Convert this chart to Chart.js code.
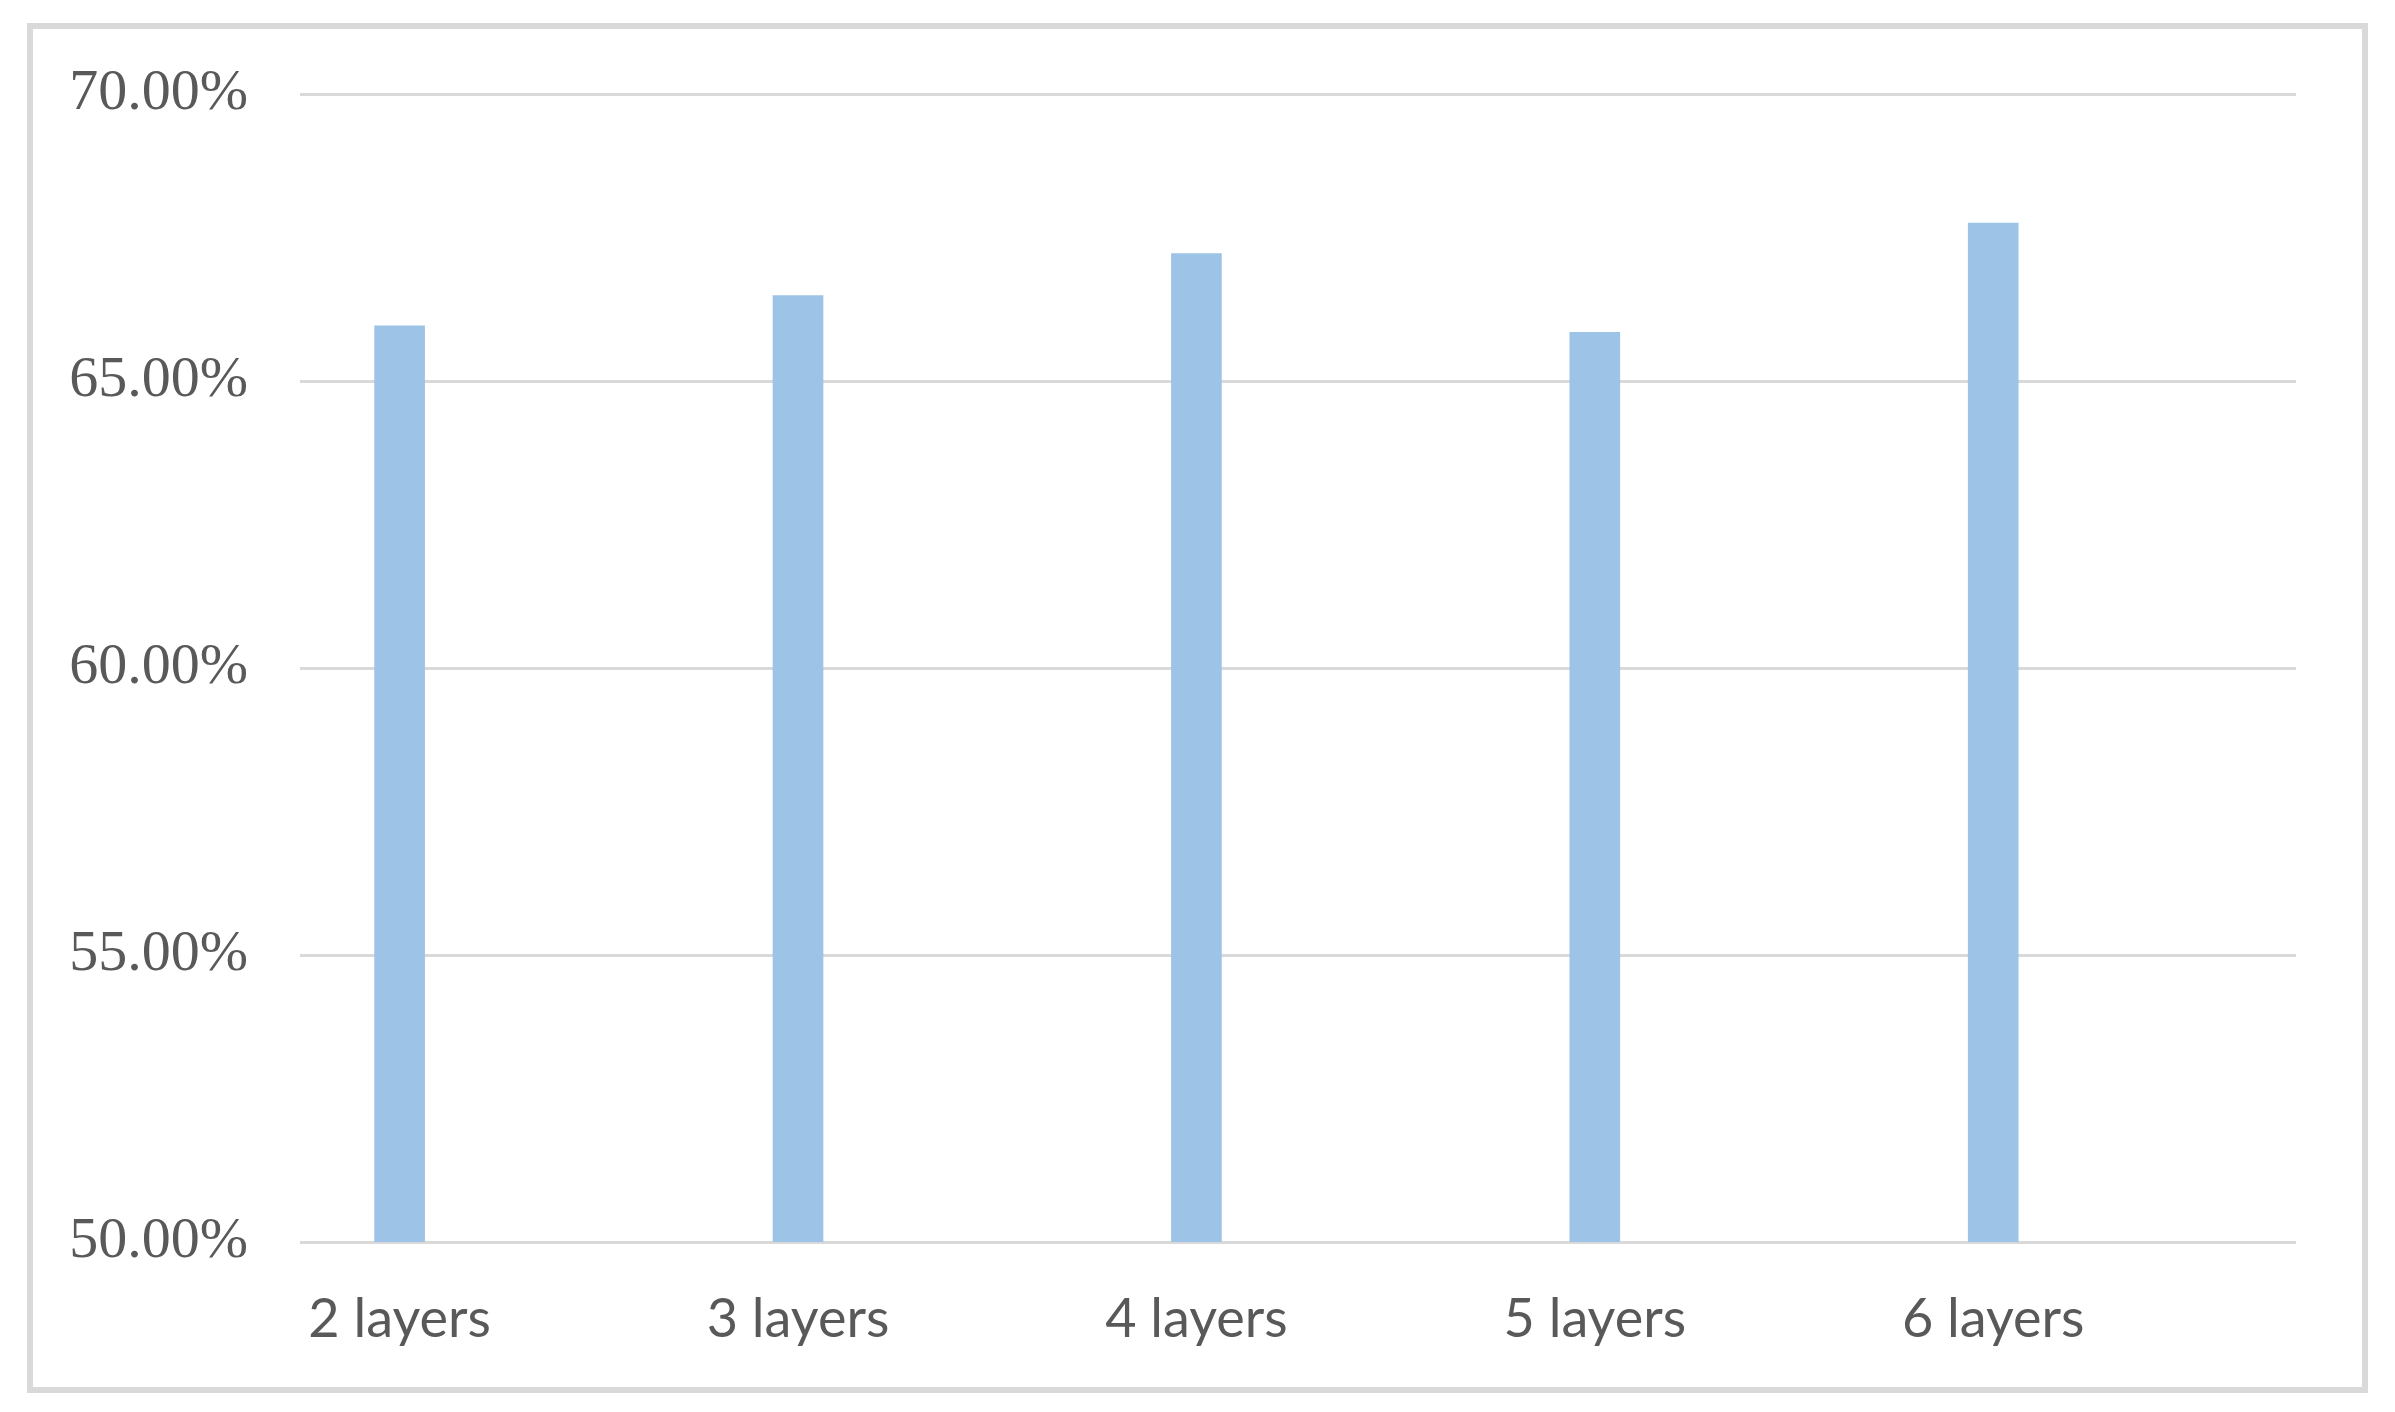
<!DOCTYPE html>
<html>
<head>
<meta charset="utf-8">
<title>Accuracy by layers</title>
<script src="https://cdn.jsdelivr.net/npm/chart.js@4.4.1/dist/chart.umd.min.js"></script>
<style>
  html, body { margin: 0; padding: 0; background: #fff; }
  #box {
    position: absolute;
    left: 27px; top: 23px;
    width: 2341px; height: 1370px;
    border: 6px solid #d9d9d9;
    box-sizing: border-box;
  }
  #chart { display: block; }
</style>
</head>
<body>
<div id="box"><canvas id="chart" width="2329" height="1358"></canvas></div>
<script>
// values (percent)
const categories = ['2 layers', '3 layers', '4 layers', '5 layers', '6 layers'];
const accuracy = [65.96, 66.49, 67.22, 65.85, 67.75];
const yTicks = [50, 55, 60, 65, 70];

const TEXT = '#595959';
const GRID = '#d9d9d9';

(function() {
  const ctx = document.getElementById('chart').getContext('2d');

  new Chart(ctx, {
    type: 'bar',
    data: {
      datasets: [{
        data: categories.map((c, i) => ({ x: i, y: accuracy[i] })),
        backgroundColor: '#9dc3e6',
        borderWidth: 0,
        barThickness: 50
      }]
    },
    options: {
      responsive: false,
      animation: false,
      devicePixelRatio: 1,
      layout: { padding: { left: 0, top: 65, right: 66, bottom: 0 } },
      plugins: {
        legend: { display: false },
        tooltip: { enabled: false }
      },
      scales: {
        x: {
          type: 'linear',
          offset: false,
          min: -0.25,
          max: 4.76,
          grid: { display: false, drawTicks: false },
          border: { display: false },
          afterBuildTicks: s => { s.ticks = categories.map((_, i) => ({ value: i })); },
          afterFit: s => { s.height = 145; },
          ticks: {
            color: TEXT,
            font: { family: 'Lato', size: 54 },
            padding: 45,
            maxRotation: 0,
            autoSkip: false,
            callback: v => categories[v]
          }
        },
        y: {
          min: 50,
          max: 70,
          grid: { color: GRID, lineWidth: 3, drawTicks: false },
          border: { display: false },
          afterBuildTicks: s => { s.ticks = yTicks.map(v => ({ value: v })); },
          afterFit: s => {
            s.width = 267;
            s.paddingTop = 0;
            s.paddingBottom = 0;
          },
          ticks: {
            color: TEXT,
            font: { family: 'Liberation Serif', size: 58 },
            padding: 52,
            callback: v => v.toFixed(2) + '%'
          }
        }
      }
    }
  });
})();
</script>
</body>
</html>
